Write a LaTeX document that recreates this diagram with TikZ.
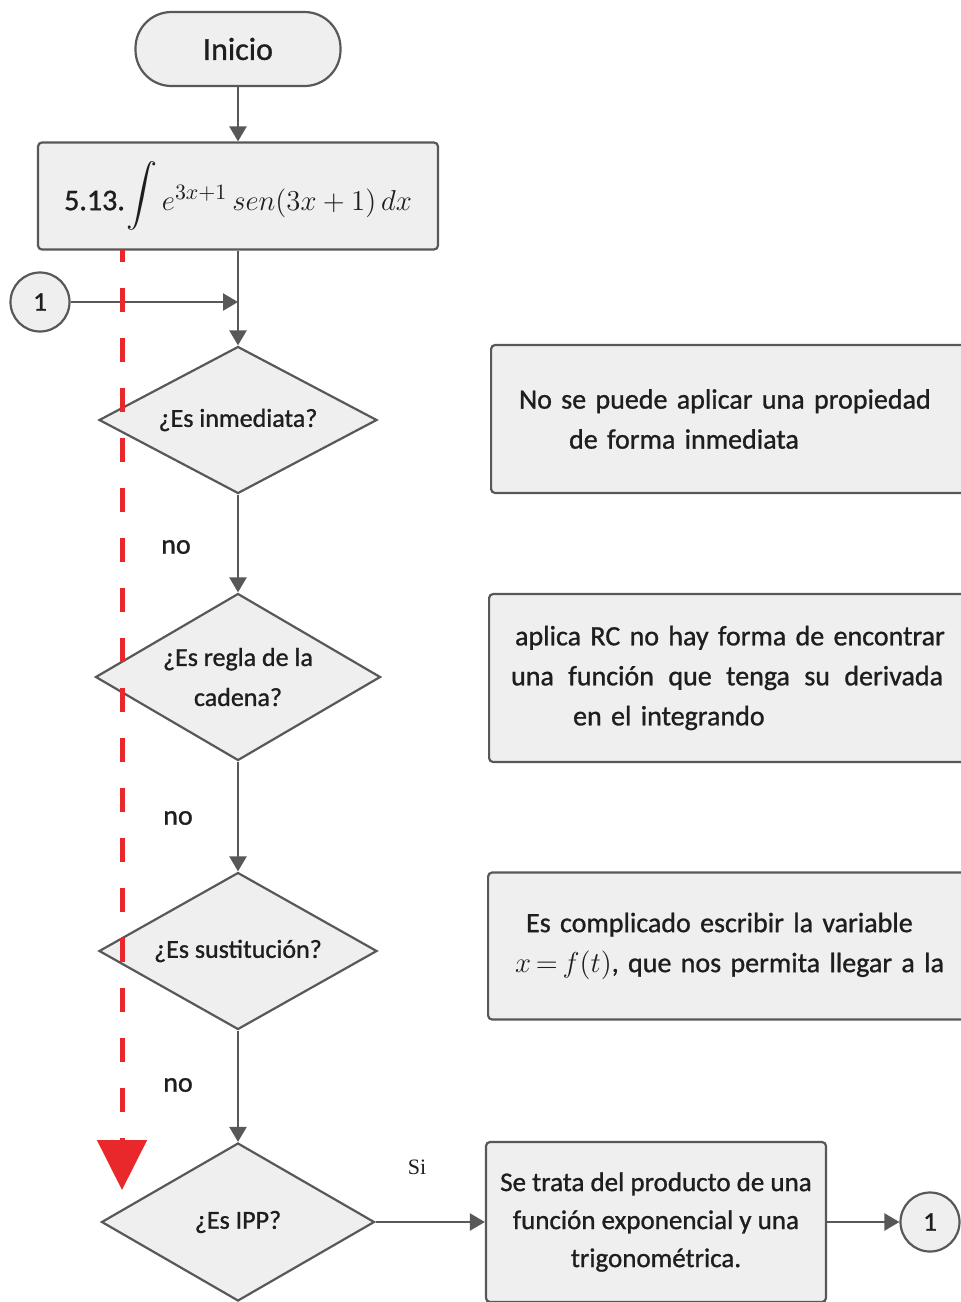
\documentclass[tikz,border=0pt]{standalone}
\usepackage{fontspec}
\setmainfont{Carlito}[FakeBold=1]
\newfontfamily\fuenteSi{Liberation Serif}
\usetikzlibrary{arrows.meta,shapes.geometric}
\definecolor{cLinea}{RGB}{88,88,88}
\definecolor{cRelleno}{RGB}{239,239,239}
\definecolor{cTexto}{RGB}{30,30,30}
\definecolor{cRojo}{RGB}{232,40,42}

\begin{document}
\begin{tikzpicture}[
    x=0.5pt, y=-0.5pt,
    >={Triangle[length=7.5pt,width=8.5pt]},
    flecha/.style={->, cLinea, line width=1.2pt},
    caja/.style={draw=cLinea, fill=cRelleno, line width=1.1pt, rounded corners=2pt, text=cTexto},
    decision/.style={diamond, draw=cLinea, fill=cRelleno, line width=1.1pt, inner sep=0pt,
        shape aspect=1.9, align=center, text=cTexto, font=\fontsize{13}{20}\selectfont, minimum width=139pt},
    conector/.style={circle, draw=cLinea, fill=cRelleno, line width=1.1pt, minimum size=29.5pt,
        inner sep=0pt, text=cTexto, font=\fontsize{13.5}{14}\selectfont},
    etiq/.style={text=cTexto, font=\fontsize{14}{16}\selectfont}
]

    % ================= marco =================
    \useasboundingbox (0,0) rectangle (961,1302);
    \clip (0,0) rectangle (961,1302);

    % ================= columna principal =================
    \node[caja, rounded corners=18pt, minimum width=102.5pt, minimum height=37pt,
        font=\fontsize{16}{18}\selectfont] (inicio) at (238,49) {Inicio};
    \node[caja, minimum width=200pt, minimum height=53.5pt, font=\fontsize{15}{18}\selectfont]
        (integral) at (238,196)
        {5.13.\hspace{1pt}\raisebox{1.5pt}{\scalebox{1.55}{$\displaystyle\int$}}\hspace{2pt}$e^{3x+1}\, sen(3x+1)\, dx$};

    \node[conector] (c1) at (40,302) {1};
    \coordinate (union) at (238,302);

    \node[decision, minimum height=73.5pt] (d1) at (238,420) {¿Es inmediata?};
    \node[decision, minimum height=83.5pt, minimum width=142.5pt] (d2) at (238,677) {¿Es regla de la\\cadena?};
    \node[decision, minimum height=78.5pt] (d3) at (238,951) {¿Es sustitución?};
    \node[decision, minimum height=79pt, minimum width=136.5pt] (d4) at (238,1222) {¿Es IPP?};

    \node[etiq] (no1) at (176,547) {no};
    \node[etiq] (no2) at (178,818) {no};
    \node[etiq] (no3) at (178,1085) {no};
    \node[text=cTexto, font=\fuenteSi\fontsize{11}{13}\selectfont] (si) at (417,1167) {Si};

    % ================= cajas de la derecha =================
    \node[caja, anchor=west, minimum height=74pt, text width=220pt, inner xsep=14pt, align=left,
        font=\fontsize{14}{20}\selectfont] (b1) at (490,419)
        {No se puede aplicar una propiedad\\\hspace*{25pt}de forma inmediata};
    \node[caja, anchor=west, minimum height=84pt, text width=224pt, inner xsep=11pt, align=left,
        font=\fontsize{14}{20}\selectfont] (b2) at (488,678)
        {\hspace*{2pt}aplica RC no hay forma de encontrar\\
         \makebox[216pt][l]{una\hfill función\hfill que\hfill tenga\hfill su\hfill derivada}\\
         \hspace*{31pt}en el integrando};
    \node[caja, anchor=west, minimum height=73.5pt, text width=224pt, inner xsep=13.5pt, align=left,
        font=\fontsize{14}{20}\selectfont] (b3) at (487,946)
        {\hspace*{5.5pt}Es complicado escribir la variable\\$x\mkern-2mu=\mkern-2mu f(t)$, que nos permita llegar a la};
    \node[caja, minimum width=170pt, minimum height=80pt, align=center,
        font=\fontsize{13.5}{19}\selectfont] (b4) at (656,1222)
        {Se trata del producto de una\\función exponencial y una\\trigonométrica.};

    \node[conector] (c2) at (930,1222) {1};

    % ================= flechas =================
    \draw[flecha] (inicio) -- (integral);
    \draw[flecha] (integral) -- (d1);
    \draw[flecha] (c1) -- (union);
    \draw[flecha] (d1) -- (d2);
    \draw[flecha] (d2) -- (d3);
    \draw[flecha] (d3) -- (d4);
    \draw[flecha] (d4) -- (b4);
    \draw[flecha] (b4) -- (c2);

    % ================= flecha roja discontinua =================
    \coordinate (rojoIni) at (122,250);
    \coordinate (rojoFin) at (122,1190);
    \draw[cRojo, line width=2.5pt, dash pattern=on 12pt off 13pt, dash phase=6pt,
        -{Triangle[length=25pt,width=24.5pt]}] (rojoIni) -- (rojoFin);

\end{tikzpicture}
\end{document}
